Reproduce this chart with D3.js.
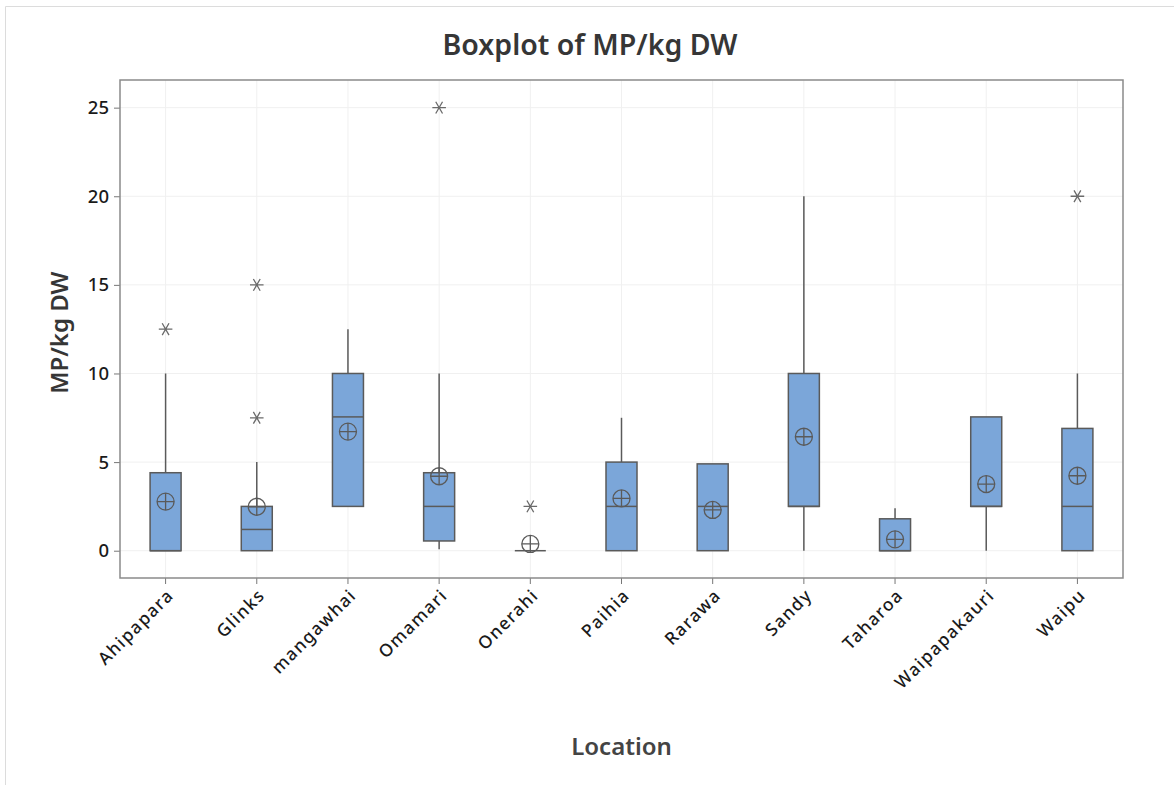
<!DOCTYPE html>
<html>
<head>
<meta charset="utf-8">
<script src="https://cdn.jsdelivr.net/npm/d3@7"></script>
<style>
  body { margin: 0; background: #fff; }
  text { font-family: "Noto Sans", "Open Sans", sans-serif; }
</style>
</head>
<body>
<div id="graph"></div>
<script>
(function(){
"use strict";

// values
var locations = ["Ahipapara", "Glinks", "mangawhai", "Omamari", "Onerahi", "Paihia",
  "Rarawa", "Sandy", "Taharoa", "Waipapakauri", "Waipu"];
var q1 = [0, 0, 2.5, 0.55, 0, 0, 0, 2.5, 0, 2.5, 0];
var medians = [0, 1.2, 7.55, 2.5, 0, 2.5, 2.5, 2.5, 0, 2.5, 2.5];
var q3 = [4.4, 2.5, 10, 4.4, 0, 5, 4.9, 10, 1.8, 7.55, 6.9];
var whiskerLow = [0, 0, 2.5, 0.08, 0, 0, 0, 0, 0, 0, 0];
var whiskerHigh = [10, 5, 12.5, 10, 0, 7.5, 4.9, 20, 2.4, 7.55, 10];
var means = [2.77, 2.48, 6.72, 4.2, 0.38, 2.95, 2.3, 6.43, 0.64, 3.76, 4.23];
var outliers = [[12.5], [15, 7.5], [], [25], [2.5], [], [], [], [], [], [20]];
var yTicks = [0, 5, 10, 15, 20, 25];

var W = 1174, H = 785;
var margin = {top: 80, right: 51, bottom: 207, left: 120};
var width = W - margin.left - margin.right;
var height = H - margin.top - margin.bottom;

var rows = locations.map(function(d, i){
  return {name: d, q1: q1[i], med: medians[i], q3: q3[i], lo: whiskerLow[i],
    hi: whiskerHigh[i], mean: means[i], out: outliers[i]};
});

var svg = d3.select("#graph").append("svg")
  .attr("width", W)
  .attr("height", H);

// faint outer frame (left and top only visible)
svg.append("path")
  .attr("d", "M5.5," + H + "V6.5H" + W)
  .attr("fill", "none")
  .attr("stroke", "#dcdcdc");

var g = svg.append("g")
  .attr("transform", "translate(" + margin.left + "," + margin.top + ")");

var x = d3.scaleBand()
  .domain(locations)
  .range([0, width]);
var y = d3.scaleLinear()
  .domain([-1.54, 26.56])
  .range([height, 0]);

// grid
g.append("g").selectAll("line.hg")
  .data(yTicks).enter().append("line")
    .attr("x1", 0).attr("x2", width)
    .attr("y1", function(d){ return y(d); })
    .attr("y2", function(d){ return y(d); })
    .attr("stroke", "#f0f0f0");
g.append("g").selectAll("line.vg")
  .data(locations).enter().append("line")
    .attr("x1", function(d){ return x(d) + x.bandwidth() / 2; })
    .attr("x2", function(d){ return x(d) + x.bandwidth() / 2; })
    .attr("y1", 0).attr("y2", height)
    .attr("stroke", "#f0f0f0");

// axes
var yAxis = d3.axisLeft(y).tickValues(yTicks).tickSize(6).tickPadding(5);
var xAxis = d3.axisBottom(x).tickSize(6).tickSizeOuter(0);

var ya = g.append("g").call(yAxis);
ya.select(".domain").remove();
ya.selectAll("line").attr("stroke", "#777");
ya.selectAll("text")
  .attr("fill", "#1a1a1a")
  .style("font-size", "18.5px")
  .style("font-weight", 500);

var xa = g.append("g")
  .attr("transform", "translate(0," + height + ")")
  .call(xAxis);
xa.select(".domain").remove();
xa.selectAll("line").attr("stroke", "#777");
xa.selectAll("text")
  .attr("fill", "#1a1a1a")
  .style("font-size", "17.5px")
  .style("font-weight", 500)
  .style("letter-spacing", "1.4px")
  .style("text-anchor", "end")
  .attr("y", 0)
  .attr("dy", "0.35em")
  .attr("transform", "translate(5,14) rotate(-45)");

// plot frame
g.append("rect")
  .attr("width", width)
  .attr("height", height)
  .attr("fill", "none")
  .attr("stroke", "#8a8a8a")
  .attr("stroke-width", 1.5);

var boxW = 31;
var cx = function(d){ return x(d.name) + x.bandwidth() / 2; };
var ink = "#5a5a5a";

var box = g.selectAll("g.box")
  .data(rows).enter().append("g")
    .attr("class", "box");

// whiskers
box.append("line")
  .attr("x1", cx).attr("x2", cx)
  .attr("y1", function(d){ return y(d.hi); })
  .attr("y2", function(d){ return y(d.q3); })
  .attr("stroke", ink).attr("stroke-width", 1.5);
box.append("line")
  .attr("x1", cx).attr("x2", cx)
  .attr("y1", function(d){ return y(d.q1); })
  .attr("y2", function(d){ return y(d.lo); })
  .attr("stroke", ink).attr("stroke-width", 1.5);

box.append("rect")
  .attr("x", function(d){ return cx(d) - boxW / 2; })
  .attr("width", boxW)
  .attr("y", function(d){ return y(d.q3); })
  .attr("height", function(d){ return y(d.q1) - y(d.q3); })
  .attr("fill", "#7ba6d9")
  .attr("stroke", ink)
  .attr("stroke-width", 1.5);

box.append("line")
  .attr("x1", function(d){ return cx(d) - boxW / 2; })
  .attr("x2", function(d){ return cx(d) + boxW / 2; })
  .attr("y1", function(d){ return y(d.med); })
  .attr("y2", function(d){ return y(d.med); })
  .attr("stroke", ink).attr("stroke-width", 1.5);

// mean symbol: circle with a cross
var r = 8.5;
box.append("circle")
  .attr("cx", cx)
  .attr("cy", function(d){ return y(d.mean); })
  .attr("r", r)
  .attr("fill", "none")
  .attr("stroke", ink).attr("stroke-width", 1.3);
box.append("path")
  .attr("d", function(d){
    var px = cx(d), py = y(d.mean);
    return "M" + (px - r) + "," + py + "H" + (px + r) + "M" + px + "," + (py - r) + "V" + (py + r);
  })
  .attr("stroke", ink).attr("stroke-width", 1.3);

// outliers as asterisks
var star = d3.symbol().type(d3.symbolAsterisk).size(130);
box.each(function(d){
  d3.select(this).selectAll("path.out")
    .data(d.out).enter().append("path")
      .attr("class", "out")
      .attr("d", star)
      .attr("transform", function(v){ return "translate(" + cx(d) + "," + y(v) + ") rotate(90)"; })
      .attr("fill", "none")
      .attr("stroke", "#6a6a6a")
      .attr("stroke-width", 1.3);
});

// titles
svg.append("text")
  .attr("x", 590).attr("y", 55)
  .attr("text-anchor", "middle")
  .attr("fill", "#363636")
  .style("font-size", "28.5px")
  .style("font-weight", 600)
  .text("Boxplot of MP/kg DW");

svg.append("text")
  .attr("transform", "translate(68," + (margin.top + y(12.3)) + ") rotate(-90)")
  .attr("text-anchor", "middle")
  .attr("fill", "#363636")
  .style("font-size", "24px")
  .style("font-weight", 600)
  .text("MP/kg DW");

svg.append("text")
  .attr("x", margin.left + width / 2).attr("y", 755)
  .attr("text-anchor", "middle")
  .attr("fill", "#444")
  .style("font-size", "24px")
  .style("font-weight", 600)
  .text("Location");

})();
</script>
</body>
</html>
